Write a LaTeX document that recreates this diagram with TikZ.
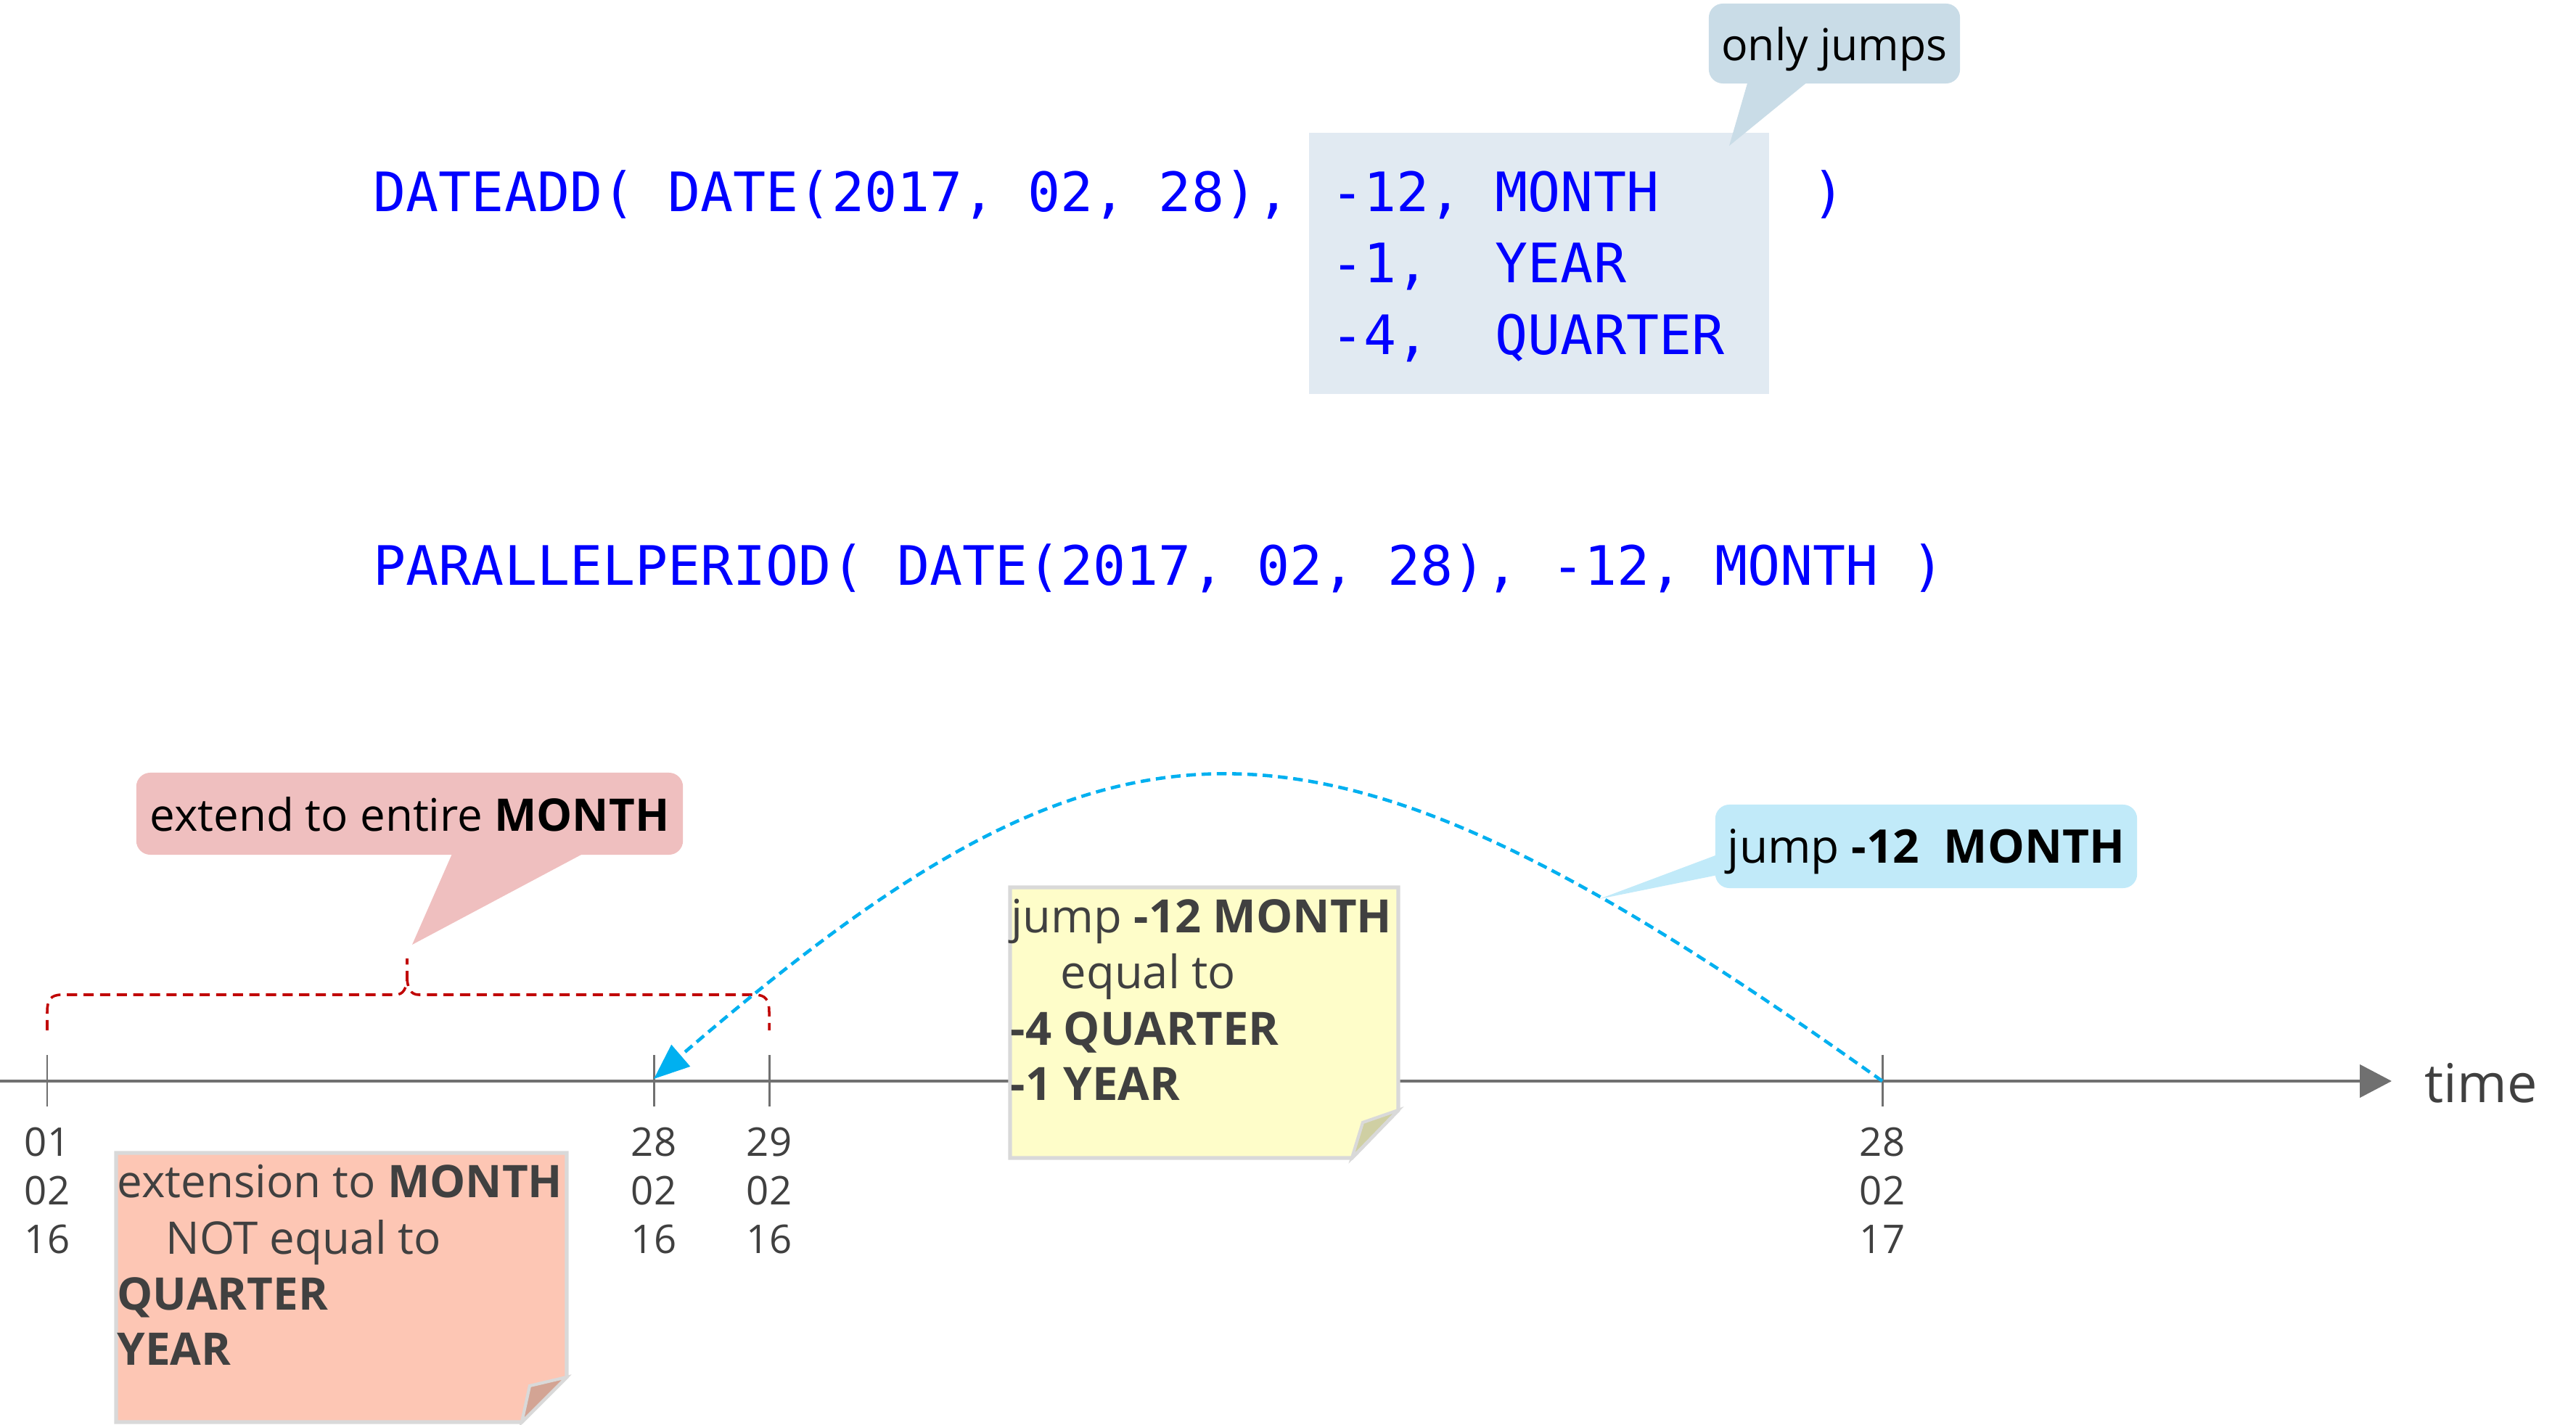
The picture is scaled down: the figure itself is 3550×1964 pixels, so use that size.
\documentclass[tikz,border=0pt]{standalone}
\usepackage{fontspec}
\setmainfont{Open Sans}
\newfontfamily\codefont{DejaVu Sans Mono}
\usetikzlibrary{arrows.meta}
\definecolor{codeblue}{HTML}{0000FF}
\definecolor{codebox}{HTML}{E1EAF2}
\definecolor{onlyc}{HTML}{C9DCE7}
\definecolor{pinkc}{HTML}{EFBFBF}
\definecolor{bluec}{HTML}{C1EAF9}
\definecolor{peachc}{HTML}{FDC6B4}
\definecolor{peachfold}{HTML}{D3A494}
\definecolor{yellowc}{HTML}{FEFDC9}
\definecolor{yellowfold}{HTML}{CFCFA3}
\definecolor{notegray}{HTML}{D9D9D9}
\definecolor{axisgray}{HTML}{707070}
\definecolor{darktext}{HTML}{404040}
\definecolor{bracered}{HTML}{C00000}
\definecolor{jumpblue}{HTML}{00B0F0}
\tikzset{
  code/.style={font=\codefont\fontsize{21.3}{26}\selectfont, text=codeblue, anchor=base west, inner sep=0pt},
  callout/.style={rounded corners=5.5pt, inner sep=0pt, text depth=0pt, font=\fontsize{17.6}{20}\selectfont, text=black},
  notebody/.style={draw=notegray, line width=1.5pt, line join=miter},
  notetext/.style={anchor=base west, inner sep=0pt, text=darktext, font=\fontsize{18}{21}\selectfont},
  peachtext/.style={notetext, font=\fontsize{17.6}{21}\selectfont},
  datelbl/.style={anchor=north, align=center, inner sep=0pt, text=darktext, font=\fontsize{15.5}{19.06}\selectfont},
  tickmark/.style={draw=axisgray, line width=0.85pt},
  bracepath/.style={draw=bracered, line width=1pt, dash pattern=on 4pt off 2.5pt},
  jumparrow/.style={draw=jumpblue, line width=1.3pt, dash pattern=on 3.8pt off 2.2pt, -{Triangle[length=14pt,width=11pt,fill=jumpblue]}},
}
\begin{document}
\begin{tikzpicture}[x=0.01cm,y=-0.01cm]
\useasboundingbox (0,0) rectangle (3550,1964);

% code block background
\node[fill=codebox, minimum width=6.34cm, minimum height=3.60cm, inner sep=0pt] (cbox) at (2121,363) {};

% code lines
\node[code] (dateadd) at (514,292) {DATEADD( DATE(2017, 02, 28),};
\node[code] (m12) at (1834,292) {-12,};
\node[code] (mmonth) at (2060,292) {MONTH};
\node[code] (mparen) at (2497,292) {)};
\node[code] (m1) at (1834,390) {-1,};
\node[code] (myear) at (2060,390) {YEAR};
\node[code] (m4) at (1834,489) {-4,};
\node[code] (mquarter) at (2060,489) {QUARTER};
\node[code] (pp) at (514,806) {PARALLELPERIOD( DATE(2017, 02, 28), -12, MONTH )};

% only jumps callout
\coordinate (onlytip) at (2383,201);
\fill[onlyc] (2410,108) -- (onlytip) -- (2497,108) -- cycle;
\node[callout, fill=onlyc, minimum width=3.46cm, minimum height=1.10cm, font=\fontsize{17.3}{20}\selectfont] (only) at (2528,60) {only jumps};

% time axis
\coordinate (axstart) at (0,1490);
\coordinate (axend) at (3296,1490);
\draw[draw=axisgray, line width=1.3pt, -{Triangle[length=12.5pt,width=12.8pt,fill=axisgray]}] (axstart) -- (axend);
\node[anchor=base west, inner sep=0pt, text=darktext, font=\fontsize{21}{24}\selectfont] (time) at (3341,1519) {time};

% ticks
\coordinate (tA) at (65,1490);
\coordinate (tB) at (901,1490);
\coordinate (tC) at (1060,1490);
\coordinate (tD) at (2594,1490);
\draw[tickmark] (65,1454) -- (65,1525);
\draw[tickmark] (901,1454) -- (901,1525);
\draw[tickmark] (1060,1454) -- (1060,1525);
\draw[tickmark] (2594,1454) -- (2594,1525);
\node[datelbl] (dA) at (65,1553) {01\\02\\16};
\node[datelbl] (dB) at (901,1553) {28\\02\\16};
\node[datelbl] (dC) at (1060,1553) {29\\02\\16};
\node[datelbl] (dD) at (2594,1553) {28\\02\\17};

% brace
\draw[bracepath] (65,1420) -- (65,1395) .. controls (65,1378) and (70,1371) .. (85,1371) -- (545,1371) .. controls (556,1371) and (561,1362) .. (561,1345) -- (561,1321);
\draw[bracepath] (561,1345) .. controls (561,1362) and (566,1371) .. (577,1371) -- (1040,1371) .. controls (1055,1371) and (1060,1378) .. (1060,1395) -- (1060,1420);

% pink callout
\coordinate (pinktip) at (568,1302);
\fill[pinkc] (626,1170) -- (pinktip) -- (816,1170) -- cycle;
\node[callout, fill=pinkc, minimum width=7.53cm, minimum height=1.13cm] (extend) at (564.5,1121.5) {extend to entire \textbf{MONTH}};

% blue callout
\coordinate (bluetip) at (2204,1239);
\fill[bluec] (2372,1176) -- (bluetip) -- (2372,1205) -- cycle;
\node[callout, fill=bluec, minimum width=5.81cm, minimum height=1.15cm, font=\fontsize{18.2}{20}\selectfont] (jumpc) at (2654.5,1166.5) {jump \textbf{-12\ \ MONTH}};

% jump arrow
\draw[jumparrow] (tD) .. controls (1810,931) and (1545,931) .. (901,1487);

% yellow note
\draw[notebody, fill=yellowc] (1392,1223) -- (1927,1223) -- (1927,1530) -- (1863,1596) -- (1392,1596) -- cycle;
\draw[notebody, fill=yellowfold, line width=1.2pt] (1863,1596) -- (1878,1547) -- (1927,1530) -- cycle;
\node[notetext] (y1) at (1393,1285) {jump \textbf{-12 MONTH}};
\node[notetext] (y2) at (1461,1362) {equal to};
\node[notetext] (y3) at (1392,1440) {\textbf{-4 QUARTER}};
\node[notetext] (y4) at (1392,1516) {\textbf{-1 YEAR}};

% peach note
\draw[notebody, fill=peachc] (160,1589) -- (781,1589) -- (781,1898) -- (719,1960) -- (160,1960) -- cycle;
\draw[notebody, fill=peachfold, line width=1.2pt] (719,1960) -- (730,1910) -- (781,1898) -- cycle;
\node[peachtext] (p1) at (161,1650) {extension to \textbf{MONTH}};
\node[peachtext] (p2) at (228,1728) {NOT equal to};
\node[peachtext] (p3) at (161,1805) {\textbf{QUARTER}};
\node[peachtext] (p4) at (161,1881) {\textbf{YEAR}};
\end{tikzpicture}
\end{document}
